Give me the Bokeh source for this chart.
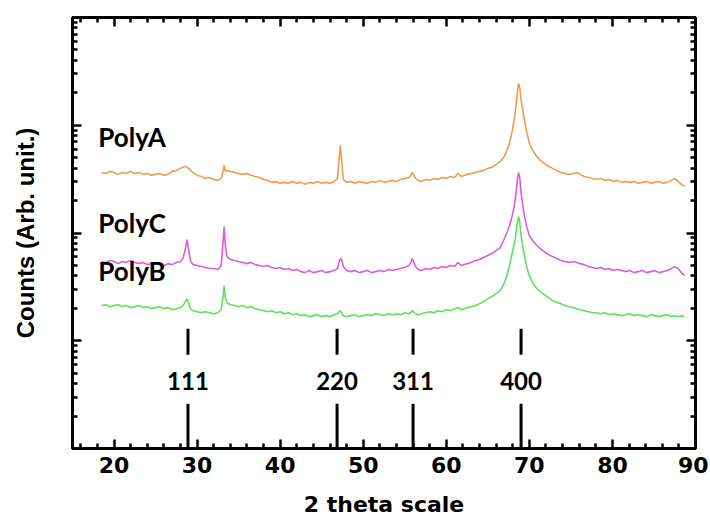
from bokeh.plotting import figure
from bokeh.models import Range1d, FixedTicker, LinearAxis, LogAxis, Label, CustomJSTickFormatter
from bokeh.core.properties import value
from bokeh.embed import file_html
from bokeh.resources import INLINE

# ---------------- data ----------------
two_theta = [
    18.5, 19.0, 19.5, 20.0, 20.5, 21.0, 21.5, 22.0, 22.5, 23.0,
    23.5, 24.0, 24.5, 25.0, 25.5, 26.0, 26.5, 27.0, 27.5, 28.0,
    28.3, 28.6, 28.8, 29.0, 29.2, 29.5, 30.0, 30.5, 31.0, 31.5,
    32.0, 32.5, 32.9, 33.1, 33.25, 33.4, 33.6, 34.0, 34.5, 35.0,
    35.5, 36.0, 36.5, 37.0, 37.5, 38.0, 38.5, 39.0, 39.5, 40.0,
    40.5, 41.0, 41.5, 42.0, 42.5, 43.0, 43.5, 44.0, 44.5, 45.0,
    45.5, 46.0, 46.5, 46.9, 47.1, 47.25, 47.4, 47.6, 48.0, 48.5,
    49.0, 49.5, 50.0, 50.5, 51.0, 51.5, 52.0, 52.5, 53.0, 53.5,
    54.0, 54.5, 55.0, 55.5, 55.75, 55.9, 56.05, 56.3, 56.6, 57.0,
    57.5, 58.0, 58.5, 59.0, 59.5, 60.0, 60.5, 61.0, 61.4, 61.8,
    62.2, 62.6, 63.0, 63.5, 64.0, 64.5, 65.0, 65.5, 66.0, 66.5,
    67.0, 67.4, 67.7, 68.0, 68.2, 68.4, 68.55, 68.7, 68.85, 69.0,
    69.2, 69.4, 69.7, 70.0, 70.4, 70.8, 71.3, 71.8, 72.3, 72.8,
    73.3, 73.8, 74.3, 74.8, 75.3, 75.7, 76.1, 76.6, 77.1, 77.6,
    78.1, 78.6, 79.1, 79.6, 80.1, 80.6, 81.1, 81.6, 82.1, 82.6,
    83.1, 83.6, 84.1, 84.6, 85.1, 85.6, 86.1, 86.6, 87.1, 87.5,
    87.9, 88.3, 88.7,
]

poly_a = [
    365, 357, 373, 365, 350, 365, 357, 373, 357, 365,
    350, 357, 343, 350, 357, 343, 350, 373, 381, 398,
    407, 416, 407, 398, 381, 365, 343, 335, 321, 328,
    314, 308, 321, 365, 425, 373, 381, 373, 365, 357,
    350, 357, 343, 335, 328, 314, 308, 295, 301, 289,
    295, 289, 301, 289, 295, 283, 295, 289, 301, 289,
    295, 289, 301, 321, 493, 652, 472, 314, 295, 301,
    289, 301, 295, 289, 301, 295, 308, 295, 301, 308,
    301, 314, 321, 328, 343, 365, 350, 321, 308, 301,
    314, 308, 321, 314, 328, 321, 335, 328, 357, 335,
    343, 350, 357, 365, 373, 381, 398, 407, 433, 462,
    515, 611, 725, 938, 1162, 1535, 2028, 2459, 2209, 1709,
    1379, 1113, 861, 680, 585, 526, 472, 443, 416, 398,
    381, 365, 357, 350, 357, 365, 350, 335, 328, 321,
    314, 321, 308, 314, 301, 308, 295, 301, 295, 301,
    289, 295, 301, 289, 295, 301, 289, 295, 308, 321,
    301, 283, 271,
]

poly_c = [
    54.3, 53.2, 55.5, 54.3, 52.0, 54.3, 53.2, 55.5, 53.2, 52.0,
    53.2, 50.9, 52.0, 53.2, 50.9, 49.9, 52.0, 50.9, 53.2, 54.3,
    57.9, 71.8, 87.0, 68.7, 55.5, 50.9, 49.9, 48.8, 47.8, 46.8,
    46.8, 45.8, 49.9, 76.5, 114.9, 76.5, 60.4, 56.7, 55.5, 54.3,
    53.2, 52.0, 53.2, 50.9, 49.9, 48.8, 49.9, 47.8, 46.8, 47.8,
    45.8, 46.8, 44.8, 45.8, 43.8, 42.9, 44.8, 42.9, 43.8, 44.8,
    42.9, 43.8, 44.8, 46.8, 53.2, 57.9, 56.7, 48.8, 44.8, 43.8,
    44.8, 42.9, 43.8, 44.8, 42.9, 43.8, 44.8, 43.8, 45.8, 44.8,
    45.8, 46.8, 47.8, 49.9, 53.2, 57.9, 54.3, 48.8, 45.8, 44.8,
    46.8, 45.8, 47.8, 46.8, 48.8, 47.8, 49.9, 48.8, 53.2, 49.9,
    50.9, 52.0, 53.2, 55.5, 56.7, 59.2, 61.8, 64.4, 68.7, 73.3,
    88.9, 105.5, 122.6, 151.9, 180.3, 238, 308, 365, 321, 238,
    180.3, 145.5, 112.5, 94.8, 85.1, 78.2, 71.8, 67.3, 63.1, 60.4,
    57.9, 55.5, 54.3, 53.2, 54.3, 53.2, 52.0, 50.9, 48.8, 47.8,
    46.8, 47.8, 45.8, 46.8, 44.8, 45.8, 44.8, 43.8, 44.8, 42.9,
    43.8, 44.8, 42.9, 43.8, 44.8, 42.9, 43.8, 44.8, 46.8, 48.8,
    46.8, 42.9, 40.2,
]

poly_b = [
    21.2, 21.6, 20.7, 21.2, 21.6, 20.7, 21.2, 20.3, 20.7, 21.2,
    20.3, 20.7, 19.8, 20.3, 20.7, 19.8, 20.3, 19.4, 19.8, 20.3,
    21.2, 23.1, 24.6, 22.1, 19.8, 19.0, 18.6, 18.2, 18.6, 18.2,
    17.8, 18.2, 19.4, 24.6, 32.5, 25.1, 22.6, 21.6, 21.2, 20.7,
    21.2, 20.3, 20.7, 19.8, 19.4, 19.0, 18.6, 19.0, 18.2, 18.6,
    17.8, 18.2, 17.4, 17.8, 17.1, 17.4, 16.7, 17.1, 17.4, 16.7,
    17.1, 16.7, 17.4, 17.8, 18.6, 19.0, 18.2, 17.1, 16.7, 17.1,
    17.4, 16.7, 17.1, 17.4, 17.1, 17.8, 17.4, 17.1, 17.8, 17.4,
    17.8, 17.4, 18.2, 17.8, 18.2, 19.0, 18.6, 17.8, 17.4, 17.8,
    18.2, 18.6, 18.2, 19.0, 18.6, 19.4, 19.0, 19.8, 20.3, 19.4,
    19.8, 20.3, 20.7, 21.2, 22.1, 23.1, 24.6, 25.7, 27.4, 29.2,
    34.6, 42.9, 53.2, 68.7, 79.9, 101.1, 125.2, 142.4, 125.2, 94.8,
    74.9, 61.8, 47.8, 40.2, 34.6, 31.1, 28.6, 26.8, 25.1, 23.6,
    22.6, 22.1, 21.2, 20.7, 20.3, 19.8, 19.4, 19.0, 18.6, 18.2,
    18.2, 17.8, 18.2, 17.4, 17.8, 17.4, 17.1, 17.4, 17.8, 17.1,
    17.4, 17.1, 16.7, 17.4, 17.1, 16.7, 17.1, 17.4, 16.7, 17.1,
    16.7, 17.1, 16.7,
]

series_names = ["PolyA", "PolyC", "PolyB"]
series_colors = ["#f39a4e", "#dc5ddc", "#5ee05a"]

hkl_labels = ["111", "220", "311", "400"]
hkl_pos = [28.9, 46.85, 56.0, 69.0]

x_major = [20, 30, 40, 50, 60, 70, 80, 90]
y_major = [1, 10, 100, 1000, 10000]

# ---------------- figure ----------------
p = figure(width=708, height=520, x_range=Range1d(15, 90), y_range=Range1d(1, 10000),
           y_axis_type="log", output_backend="svg", toolbar_location=None,
           min_border_left=72, min_border_top=17, min_border_right=13, min_border_bottom=72,
           background_fill_color="white", border_fill_color="white")
p.xgrid.grid_line_color = None
p.ygrid.grid_line_color = None
p.outline_line_color = "black"
p.outline_line_width = 3

x_minor = [v for v in range(16, 91, 2) if v % 10 != 0]
y_minor = [m * 10 ** e for e in range(4) for m in range(2, 10)]
xt = FixedTicker(ticks=x_major, minor_ticks=x_minor)
yt = FixedTicker(ticks=y_major, minor_ticks=y_minor)


def style(ax, show_labels):
    ax.axis_line_width = 3
    ax.axis_line_color = "black"
    ax.major_tick_in = 9
    ax.major_tick_out = 0
    ax.minor_tick_in = 5
    ax.minor_tick_out = 0
    ax.major_tick_line_width = 2.5
    ax.minor_tick_line_width = 2.5
    ax.major_tick_line_color = "black"
    ax.minor_tick_line_color = "black"
    if not show_labels:
        ax.formatter = CustomJSTickFormatter(code="return ''")
        ax.major_label_standoff = 0


xa = p.xaxis[0]
xa.ticker = xt
style(xa, True)
xa.major_label_text_font = "DejaVu Sans"
xa.major_label_text_font_style = "bold"
xa.major_label_text_font_size = "22px"
xa.major_label_text_color = "black"
xa.major_label_standoff = 8
xa.axis_label = "2 theta scale"
xa.axis_label_text_font = "DejaVu Sans"
xa.axis_label_text_font_style = "bold"
xa.axis_label_text_font_size = "22px"
xa.axis_label_text_color = "black"
xa.axis_label_standoff = 16

ya = p.yaxis[0]
ya.ticker = yt
style(ya, False)
ya.axis_label = "Counts (Arb. unit.)"
ya.axis_label_text_font = "Liberation Sans"
ya.axis_label_text_font_style = "bold"
ya.axis_label_text_font_size = "24px"
ya.axis_label_text_color = "black"
ya.axis_label_standoff = 34

top = LinearAxis(ticker=xt)
style(top, False)
p.add_layout(top, "above")
right = LogAxis(ticker=yt)
style(right, False)
p.add_layout(right, "right")

# ---------------- curves ----------------
for name, ys, col in zip(series_names, [poly_a, poly_c, poly_b], series_colors):
    p.line(two_theta, ys, line_color=col, line_width=1.6)

# series labels
for name, yb in zip(series_names, [775, 123, 44]):
    p.add_layout(Label(x=18.1, y=yb, text=name, text_font="Lato", text_font_style="bold",
                       text_font_size="26px", text_color="black",
                       text_baseline="alphabetic", text_align="left"))

# hkl markers
n = len(hkl_pos)
p.segment(x0=hkl_pos, y0=[7.4] * n, x1=hkl_pos, y1=[12.9] * n, line_color="black", line_width=3)
p.segment(x0=hkl_pos, y0=[1] * n, x1=hkl_pos, y1=[2.6] * n, line_color="black", line_width=3)
p.text(x=hkl_pos, y=[4.25] * n, text=hkl_labels, text_align="center", text_baseline="middle",
       text_font=value("Lato"), text_font_style="bold", text_font_size=value("24px"),
       text_color="black")

open("out.html", "w").write(file_html(p, INLINE))
